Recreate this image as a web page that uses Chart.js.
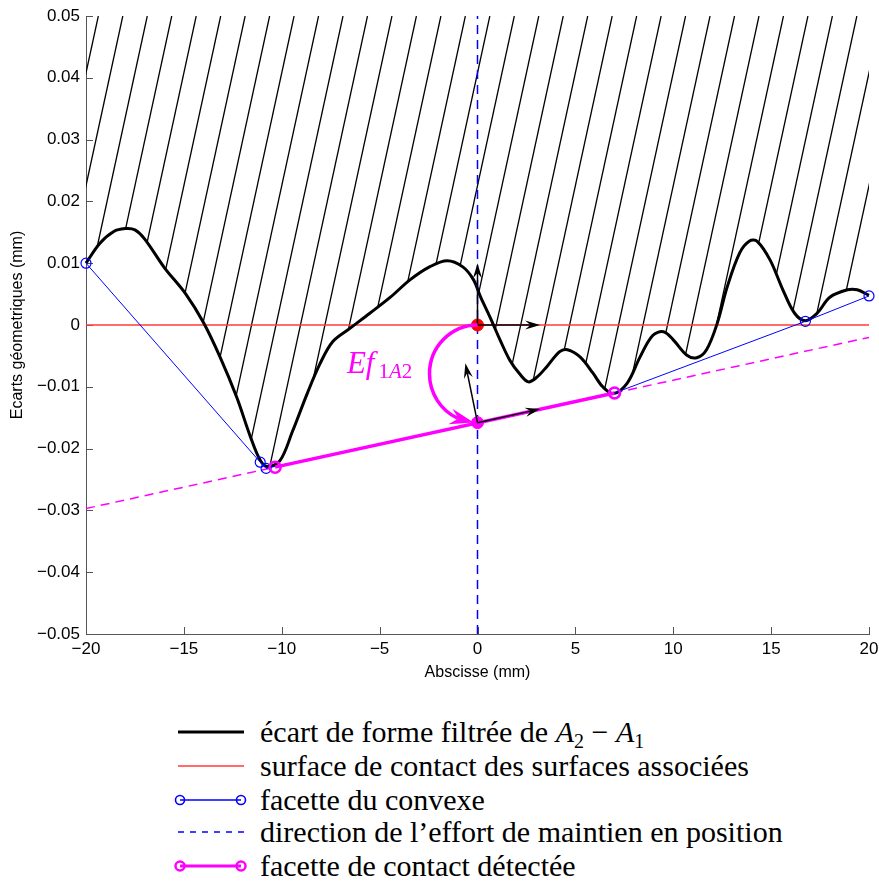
<!DOCTYPE html>
<html lang="fr">
<head>
<meta charset="UTF-8">
<title>Facette de contact détectée</title>
<style>
    body { margin: 0; background: #fff; }
    #wrap { position: relative; width: 879px; height: 884px; }
    #chart { position: absolute; left: 0; top: 0; }
    .leg-row {
        position: absolute; left: 174px; height: 34px;
        display: flex; align-items: center;
        font-family: "Liberation Serif", "Times New Roman", serif;
        font-size: 30px; color: #000; white-space: nowrap;
    }
    .leg-row svg { margin-right: 12px; }
    .leg-row sub { font-size: 20px; vertical-align: -6px; line-height: 0; }
</style>
</head>
<body>
<div id="wrap">
    <canvas id="chart" width="879" height="690"></canvas>
    <div id="legend"></div>
</div>

<script src="https://cdn.jsdelivr.net/npm/chart.js"></script>
<script>
    // écart de forme filtré (mm)
    const curveX = [-20, -19.3, -18.6, -18.0, -17.5, -17.0, -16.0, -14.9, -14.0, -13.15, -12.3, -11.6, -11.1, -10.75,
        -10.1, -9.45, -8.7, -8.05, -7.4, -6.5, -5.5, -4.45, -3.45, -2.45, -1.55, -0.75, -0.2, 0.15, 0.65, 1.15,
        1.65, 2.15, 2.6, 3.05, 3.55, 4.2, 4.6, 5.25, 5.9, 6.4, 6.95, 7.65, 8.3, 8.95, 9.5, 10.0, 10.7, 11.2,
        11.7, 12.25, 12.75, 13.4, 13.9, 14.3, 14.95, 15.6, 16.2, 16.75, 17.35, 18.0, 18.9, 19.4, 20.0];
    const curveY = [0.0100, 0.0132, 0.0151, 0.0156, 0.0154, 0.0139, 0.0093, 0.0050, 0.0004, -0.0052, -0.0117, -0.0181, -0.0219, -0.0229,
        -0.0220, -0.0172, -0.0111, -0.0063, -0.0027, -0.0005, 0.0019, 0.0045, 0.0073, 0.0094, 0.0104, 0.0094, 0.0073, 0.0046, 0.0012, -0.0024,
        -0.0057, -0.0079, -0.0092, -0.0084, -0.0067, -0.0043, -0.0040, -0.0052, -0.0078, -0.0100, -0.0111, -0.0094, -0.0052, -0.0017, -0.0011, -0.0024, -0.0049, -0.0053,
        -0.0040, 0.0003, 0.0061, 0.0117, 0.0136, 0.0135, 0.0105, 0.0057, 0.0019, 0.0007, 0.0019, 0.0045, 0.0057, 0.0057, 0.0048];

    // facettes du convexe
    const hullX = [-20, -11.1, -10.8, 7.0, 16.75, 20];
    const hullY = [0.0100, -0.0222, -0.0232, -0.0110, 0.0006, 0.0047];

    // facette de contact détectée + son prolongement
    const contactX = [-10.34, 7.0];
    const contactY = [-0.0230, -0.0110];
    const contactLineX = [-20, 20];
    const contactLineY = [-0.0297, -0.0020];

    // surface de contact (y = 0) et direction de l'effort (x = 0)
    const surfaceX = [-20, 20];
    const surfaceY = [0, 0];
    const effortX = [0, 0];
    const effortY = [-0.05, 0.05];

    const originX = [0], originY = [0];
    const contactPtX = [0], contactPtY = [-0.0158];

    // flèches (repères)
    const arrowX0 = [0, 0, 0, 0];
    const arrowY0 = [0, 0, -0.0158, -0.0158];
    const arrowX1 = [3.2, 0, 3.2, -0.62];
    const arrowY1 = [0, 0.0100, -0.0136, -0.0062];

    const xTicks = [-20, -15, -10, -5, 0, 5, 10, 15, 20];
    const xTickLabels = ['\u221220', '\u221215', '\u221210', '\u22125', '0', '5', '10', '15', '20'];
    const yTicks = [-0.05, -0.04, -0.03, -0.02, -0.01, 0, 0.01, 0.02, 0.03, 0.04, 0.05];
    const yTickLabels = ['\u22120.05', '\u22120.04', '\u22120.03', '\u22120.02', '\u22120.01', '0', '0.01', '0.02', '0.03', '0.04', '0.05'];

    // hachures : abscisse du premier trait en haut, pas, pente (mm / mm)
    const hatchTopX0 = -19.37;
    const hatchStep = 1.25;
    const hatchSlope = 0.0146;

    const legendLabels = [
        '\u00e9cart de forme filtr\u00e9e de <i>A</i><sub>2</sub> \u2212 <i>A</i><sub>1</sub>',
        'surface de contact des surfaces associ\u00e9es',
        'facette du convexe',
        'direction de l\u2019effort de maintien en position',
        'facette de contact d\u00e9tect\u00e9e'
    ];

    const pts = (xs, ys) => xs.map((x, i) => ({x: x, y: ys[i]}));
    const TICK_FONT = {family: '"Liberation Sans", Arial, sans-serif', size: 17};
    const TITLE_FONT = {family: '"Liberation Sans", Arial, sans-serif', size: 16};

    const hatchPlugin = {
        id: 'hatch',
        beforeDatasetsDraw(chart) {
            const ctx = chart.ctx, a = chart.chartArea;
            const xs = chart.scales.x, ys = chart.scales.y;
            const line = chart.getDatasetMeta(0).dataset;
            ctx.save();
            ctx.beginPath();
            ctx.rect(a.left, a.top, a.right - a.left, a.bottom - a.top);
            ctx.clip();
            ctx.beginPath();
            line.path(ctx);
            ctx.lineTo(a.right, a.top);
            ctx.lineTo(a.left, a.top);
            ctx.closePath();
            ctx.clip();
            const dxPx = xs.getPixelForValue(1) - xs.getPixelForValue(0);
            const dyPx = ys.getPixelForValue(0) - ys.getPixelForValue(hatchSlope);
            const s = dyPx / dxPx;
            const h = a.bottom - a.top;
            ctx.strokeStyle = '#000';
            ctx.lineWidth = 1.3;
            for (let k = -2; k < 40; k++) {
                const xt = xs.getPixelForValue(hatchTopX0 + k * hatchStep);
                ctx.beginPath();
                ctx.moveTo(xt, a.top);
                ctx.lineTo(xt - h / s, a.bottom);
                ctx.stroke();
            }
            ctx.restore();

            // petites graduations vers l'intérieur
            ctx.save();
            ctx.strokeStyle = '#555';
            ctx.lineWidth = 1;
            xTicks.forEach(v => {
                const p = Math.round(xs.getPixelForValue(v)) + 0.5;
                ctx.beginPath(); ctx.moveTo(p, a.bottom); ctx.lineTo(p, a.bottom - 7); ctx.stroke();
            });
            yTicks.forEach(v => {
                const p = Math.round(ys.getPixelForValue(v)) + 0.5;
                ctx.beginPath(); ctx.moveTo(a.left, p); ctx.lineTo(a.left + 7, p); ctx.stroke();
            });
            ctx.restore();
        }
    };

    function drawArrow(ctx, x0, y0, x1, y1, len, half, color, lw) {
        const ang = Math.atan2(y1 - y0, x1 - x0);
        const c = Math.cos(ang), s = Math.sin(ang);
        const bx = x1 - c * len * 0.65, by = y1 - s * len * 0.65;
        ctx.strokeStyle = color;
        ctx.fillStyle = color;
        ctx.lineWidth = lw;
        ctx.beginPath(); ctx.moveTo(x0, y0); ctx.lineTo(bx, by); ctx.stroke();
        ctx.beginPath();
        ctx.moveTo(x1, y1);
        ctx.lineTo(x1 - c * len - s * half, y1 - s * len + c * half);
        ctx.lineTo(bx, by);
        ctx.lineTo(x1 - c * len + s * half, y1 - s * len - c * half);
        ctx.closePath();
        ctx.fill();
    }

    const annotPlugin = {
        id: 'annot',
        afterDatasetsDraw(chart) {
            const ctx = chart.ctx;
            const xs = chart.scales.x, ys = chart.scales.y;
            ctx.save();
            for (let i = 0; i < arrowX0.length; i++) {
                drawArrow(ctx, xs.getPixelForValue(arrowX0[i]), ys.getPixelForValue(arrowY0[i]),
                    xs.getPixelForValue(arrowX1[i]), ys.getPixelForValue(arrowY1[i]), 15, 4.5, '#000', 1.5);
            }

            // arc magenta : rotation de la surface de contact vers la facette
            const cx = xs.getPixelForValue(originX[0]);
            const yTop = ys.getPixelForValue(originY[0]);
            const yBot = ys.getPixelForValue(contactPtY[0]);
            const cy = (yTop + yBot) / 2, ry = (yBot - yTop) / 2, rx = 48;
            const tEnd = Math.PI / 2 + 0.42, tTip = Math.PI / 2 + 0.08;
            ctx.strokeStyle = '#ff00ff';
            ctx.lineWidth = 3.5;
            ctx.beginPath();
            ctx.ellipse(cx, cy, rx, ry, 0, -Math.PI / 2, tEnd, true);
            ctx.stroke();
            const ex = cx + rx * Math.cos(tEnd), ey = cy + ry * Math.sin(tEnd);
            const tx = cx + rx * Math.cos(tTip), ty = cy + ry * Math.sin(tTip);
            drawArrow(ctx, ex, ey, tx, ty, 24, 8, '#ff00ff', 3.5);

            // libellé Ef_1A2
            let x = xs.getPixelForValue(-6.67);
            const y = ys.getPixelForValue(-0.0078);
            ctx.fillStyle = '#ff00ff';
            ctx.textBaseline = 'alphabetic';
            ctx.font = 'italic 31px "Liberation Serif", serif';
            ctx.fillText('Ef', x, y);
            x += ctx.measureText('Ef').width + 4;
            const parts = [['1', ''], ['A', 'italic '], ['2', '']];
            parts.forEach(p => {
                ctx.font = p[1] + '21px "Liberation Serif", serif';
                ctx.fillText(p[0], x, y + 5);
                x += ctx.measureText(p[0]).width;
            });
            ctx.restore();
        }
    };

    const chart = new Chart(document.getElementById('chart'), {
        type: 'scatter',
        data: {
            datasets: [
                {
                    label: 'curve', data: pts(curveX, curveY), showLine: true,
                    borderColor: '#000', borderWidth: 3, pointRadius: 0, tension: 0.35,
                    order: 6, clip: false
                },
                {
                    label: 'surface', data: pts(surfaceX, surfaceY), showLine: true,
                    borderColor: '#ff3b3b', borderWidth: 1.3, pointRadius: 0, order: 9
                },
                {
                    label: 'contactLine', data: pts(contactLineX, contactLineY), showLine: true,
                    borderColor: '#ff00ff', borderWidth: 1.5, borderDash: [9, 6], pointRadius: 0, order: 8
                },
                {
                    label: 'hull', data: pts(hullX, hullY), showLine: true,
                    borderColor: '#0000ff', borderWidth: 1, pointRadius: 5, pointBorderWidth: 1.2,
                    pointBorderColor: '#0000ff', pointBackgroundColor: 'rgba(0,0,0,0)', order: 5, clip: false
                },
                {
                    label: 'contact', data: pts(contactX, contactY), showLine: true,
                    borderColor: '#ff00ff', borderWidth: 3.5, pointRadius: 5.5, pointBorderWidth: 2.5,
                    pointBorderColor: '#ff00ff', pointBackgroundColor: 'rgba(0,0,0,0)', order: 4, clip: false
                },
                {
                    label: 'effort', data: pts(effortX, effortY), showLine: true,
                    borderColor: '#0000ff', borderWidth: 1.5, borderDash: [9, 6], pointRadius: 0, order: 3.5
                },
                {
                    label: 'contactPt', data: pts(contactPtX, contactPtY), pointRadius: 6,
                    pointBackgroundColor: '#ff00ff', pointBorderColor: '#ff00ff', order: 3, clip: false
                },
                {
                    label: 'origin', data: pts(originX, originY), pointRadius: 6,
                    pointBackgroundColor: '#ff0000', pointBorderColor: '#ff0000', order: 2, clip: false
                }
            ]
        },
        options: {
            responsive: false,
            animation: false,
            devicePixelRatio: 1,
            layout: {padding: {top: 16, right: 10, left: 0, bottom: 0}},
            plugins: {legend: {display: false}, tooltip: {enabled: false}},
            scales: {
                x: {
                    type: 'linear', min: -20, max: 20,
                    afterBuildTicks: s => { s.ticks = xTicks.map(v => ({value: v})); },
                    afterFit: s => { s.height = 56; s.paddingLeft = 0; s.paddingRight = 0; },
                    grid: {display: false, drawTicks: false},
                    border: {display: true, color: '#555', width: 1},
                    ticks: {
                        font: TICK_FONT, color: '#000', padding: 5, maxRotation: 0, autoSkip: false,
                        callback: (v, i) => xTickLabels[i]
                    },
                    title: {display: true, text: 'Abscisse (mm)', font: TITLE_FONT, color: '#000', padding: {top: 0, bottom: 8}}
                },
                y: {
                    type: 'linear', min: -0.05, max: 0.05,
                    afterBuildTicks: s => { s.ticks = yTicks.map(v => ({value: v})); },
                    afterFit: s => { s.width = 86; s.paddingTop = 0; s.paddingBottom = 0; },
                    grid: {display: false, drawTicks: false},
                    border: {display: true, color: '#555', width: 1},
                    ticks: {
                        font: TICK_FONT, color: '#000', padding: 6, autoSkip: false,
                        callback: (v, i) => yTickLabels[i]
                    },
                    title: {display: true, text: 'Ecarts g\u00e9ometriques (mm)', font: TITLE_FONT, color: '#000', padding: {top: 8, bottom: 0}}
                }
            }
        },
        plugins: [hatchPlugin, annotPlugin]
    });

    // légende sous le graphique, une entrée par ligne
    const legendRowsY = [732, 766, 800, 832, 866];
    const legendSamples = [
        '<line x1="4" y1="10" x2="70" y2="10" stroke="#000" stroke-width="3"/>',
        '<line x1="4" y1="10" x2="70" y2="10" stroke="#ff3b3b" stroke-width="1.5"/>',
        '<line x1="6" y1="10" x2="67" y2="10" stroke="#0000ff" stroke-width="1.6"/>' +
        '<circle cx="6" cy="10" r="4.5" fill="none" stroke="#0000ff" stroke-width="1.6"/>' +
        '<circle cx="67" cy="10" r="4.5" fill="none" stroke="#0000ff" stroke-width="1.6"/>',
        '<line x1="4" y1="10" x2="70" y2="10" stroke="#0000ff" stroke-width="1.5" stroke-dasharray="6,6"/>',
        '<line x1="6" y1="10" x2="67" y2="10" stroke="#ff00ff" stroke-width="3"/>' +
        '<circle cx="6" cy="10" r="4.5" fill="none" stroke="#ff00ff" stroke-width="2.5"/>' +
        '<circle cx="67" cy="10" r="4.5" fill="none" stroke="#ff00ff" stroke-width="2.5"/>'
    ];
    const legend = document.getElementById('legend');
    legendLabels.forEach((lab, i) => {
        const row = document.createElement('div');
        row.className = 'leg-row';
        row.style.top = (legendRowsY[i] - 17) + 'px';
        row.innerHTML = '<svg width="74" height="20">' + legendSamples[i] + '</svg><span>' + lab + '</span>';
        legend.appendChild(row);
    });
</script>
</body>
</html>
